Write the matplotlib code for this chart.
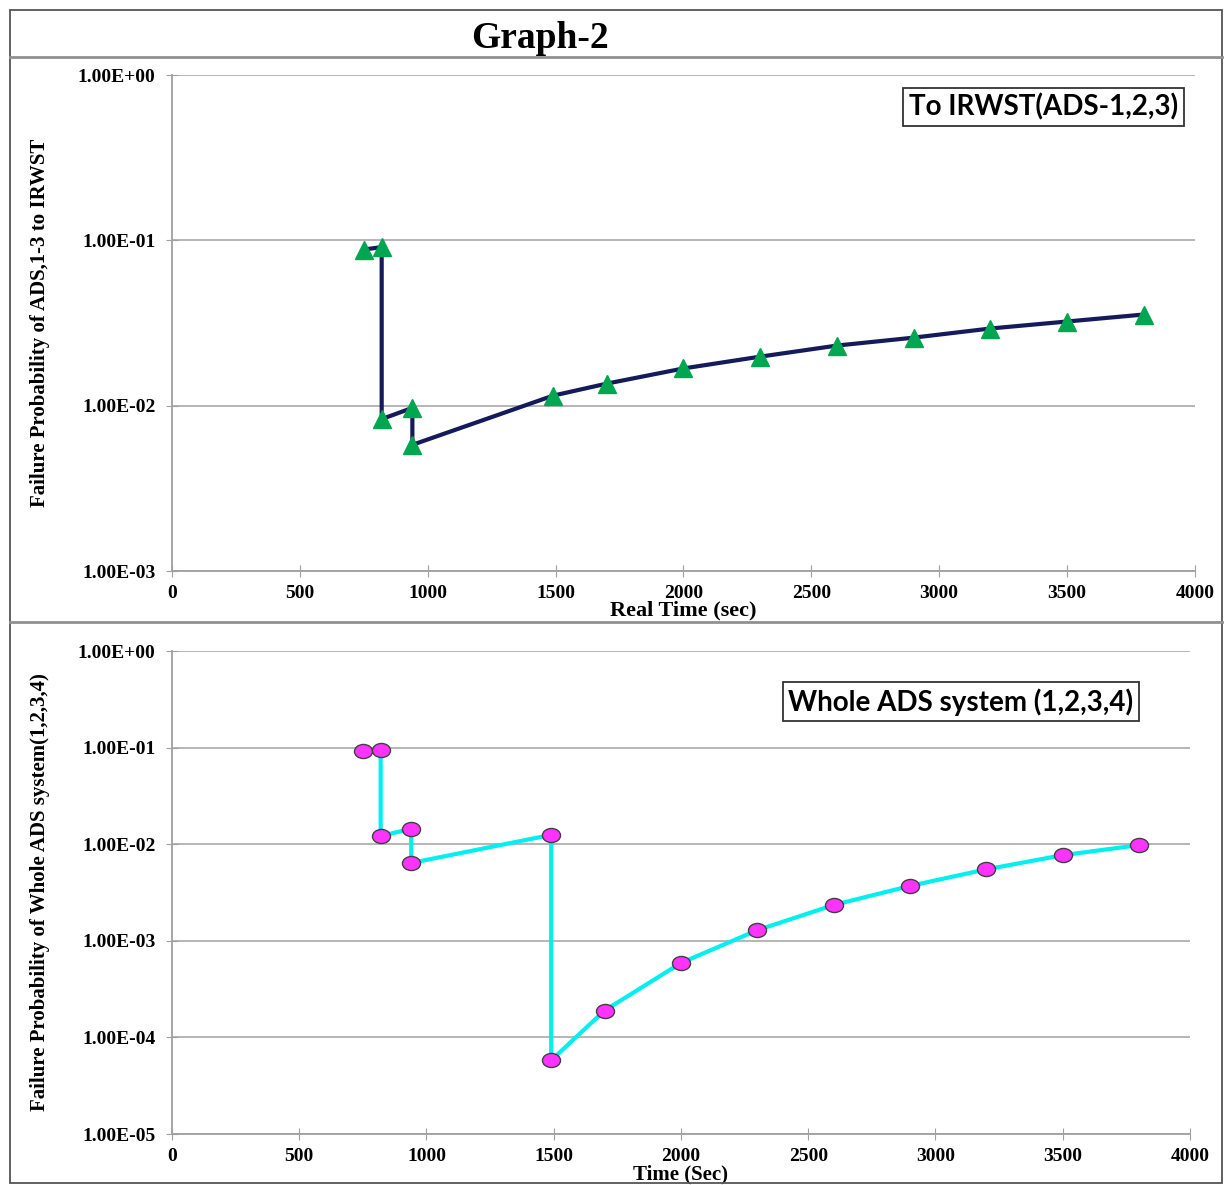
import matplotlib.pyplot as plt
from matplotlib.lines import Line2D
from matplotlib.patches import Rectangle
from matplotlib.path import Path
from matplotlib.ticker import FixedLocator, FuncFormatter

# top panel: ADS 1-3 to IRWST
top_time = [750, 820, 820, 940, 940, 1490, 1700, 2000, 2300, 2600, 2900, 3200, 3500, 3800]
top_prob = [0.088, 0.091, 0.0083, 0.0097, 0.0058, 0.0115, 0.0136, 0.0168, 0.0198,
            0.0231, 0.0258, 0.0293, 0.0323, 0.0356]

# bottom panel: whole ADS system
bot_time = [750, 820, 820, 940, 940, 1490, 1490, 1700, 2000, 2300, 2600, 2900, 3200, 3500, 3800]
bot_prob = [0.092, 0.094, 0.0122, 0.0144, 0.0064, 0.0125, 5.8e-5, 1.9e-4, 5.9e-4,
            1.29e-3, 2.35e-3, 3.7e-3, 5.5e-3, 7.7e-3, 9.8e-3]

x_ticks = [0, 500, 1000, 1500, 2000, 2500, 3000, 3500, 4000]

serif = 'Liberation Serif'
box_font = 'Lato'

fig = plt.figure(figsize=(12.25, 11.85), dpi=100)

# flattened circle, like the excel marker
circ = Path.unit_circle()
ellipse = Path(circ.vertices * [1.0, 0.78], circ.codes)


def sci(v, pos):
    return "%.2E" % v


def style_axes(ax, ymin, ymax):
    ax.set_yscale('log')
    ax.set_xlim(0, 4000)
    ax.set_ylim(ymin, ymax)
    ax.xaxis.set_major_locator(FixedLocator(x_ticks))
    ax.yaxis.set_major_formatter(FuncFormatter(sci))
    ax.yaxis.set_minor_locator(FixedLocator([]))
    ax.grid(axis='y', color='#b0b0b0', lw=1.3)
    ax.set_axisbelow(True)
    for s in ['top', 'right']:
        ax.spines[s].set_visible(False)
    for s in ['left', 'bottom']:
        ax.spines[s].set_color('#a0a0a0')
        ax.spines[s].set_linewidth(1.3)
    ax.tick_params(axis='x', direction='inout', length=8, color='#a0a0a0', pad=6)
    ax.tick_params(axis='y', direction='inout', length=8, color='#a0a0a0', pad=8)
    for lab in ax.get_xticklabels() + ax.get_yticklabels():
        lab.set_fontfamily(serif)
        lab.set_fontweight('bold')
        lab.set_fontsize(14)


# top chart
ax1 = fig.add_axes([0.1404, 0.5181, 0.835, 0.4186])
ax1.plot(top_time, top_prob, color='#141a5a', lw=3, marker='^', markersize=13,
         markerfacecolor='#00a650', markeredgecolor='#00a650', clip_on=False)
style_axes(ax1, 1e-3, 1)
ax1.set_xlabel('Real Time (sec)', fontfamily=serif, fontweight='bold', fontsize=16, labelpad=-1)
ax1.set_ylabel('Failure Probability of ADS,1-3 to IRWST', fontfamily=serif,
               fontweight='bold', fontsize=15, labelpad=20)
ax1.text(0.852, 0.936, 'To IRWST(ADS-1,2,3)', transform=ax1.transAxes, ha='center', va='center',
         fontfamily=box_font, fontweight='bold', fontsize=20,
         bbox=dict(boxstyle='square,pad=0.2', fc='white', ec='#333333', lw=1.3))

# bottom chart
ax2 = fig.add_axes([0.1404, 0.0430, 0.831, 0.4076])
ax2.plot(bot_time, bot_prob, color='#00f0f0', lw=3, marker=ellipse, markersize=13,
         markerfacecolor='#ff33ff', markeredgecolor='#404040', markeredgewidth=1, clip_on=False)
style_axes(ax2, 1e-5, 1)
ax2.set_xlabel('Time (Sec)', fontfamily=serif, fontweight='bold', fontsize=15, labelpad=0)
ax2.set_ylabel('Failure Probability of Whole ADS system(1,2,3,4)', fontfamily=serif,
               fontweight='bold', fontsize=15, labelpad=20)
ax2.text(0.775, 0.895, 'Whole ADS system (1,2,3,4)', transform=ax2.transAxes, ha='center',
         va='center', fontfamily=box_font, fontweight='bold', fontsize=20,
         bbox=dict(boxstyle='square,pad=0.2', fc='white', ec='#333333', lw=1.3))

# title and outer frame
fig.text(540 / 1225, 1 - 39 / 1185, 'Graph-2', ha='center', va='center',
         fontfamily=serif, fontweight='bold', fontsize=27)
fig.patches.append(Rectangle((10 / 1225, 1 - 1183 / 1185), 1212 / 1225, 1173 / 1185,
                             transform=fig.transFigure, fill=False, ec='#555555', lw=1.3))
for py in [57, 622]:
    fig.lines.append(Line2D([10 / 1225, 1222 / 1225], [1 - py / 1185] * 2,
                            transform=fig.transFigure, color='#909090', lw=2))

fig.savefig('out.png', dpi=100)
